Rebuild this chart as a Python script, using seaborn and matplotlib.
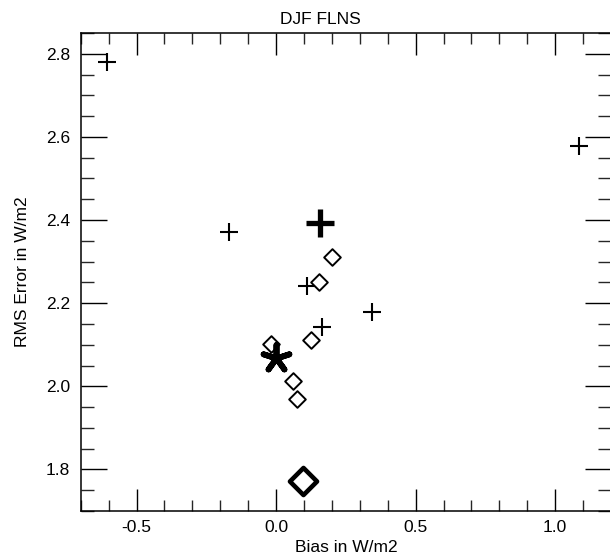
import matplotlib
matplotlib.use("Agg")
import matplotlib.pyplot as plt
from matplotlib.ticker import MultipleLocator, FixedLocator
import seaborn as sns
import pandas as pd

# ---- data ----
plus_x = [-0.607, -0.167, 0.110, 0.345, 0.164, 1.084]
plus_y = [2.781, 2.371, 2.241, 2.179, 2.142, 2.578]
diamond_x = [0.202, 0.154, 0.124, -0.018, 0.062, 0.074]
diamond_y = [2.311, 2.251, 2.111, 2.101, 2.012, 1.970]
bigplus_x = [0.158]
bigplus_y = [2.393]
bigdiamond_x = [0.098]
bigdiamond_y = [1.772]
star_x = [0.000]
star_y = [2.069]

x_ticks = [-0.5, 0.0, 0.5, 1.0]
x_ticklabels = ["-0.5", "0.0", "0.5", "1.0"]
y_ticks = [1.8, 2.0, 2.2, 2.4, 2.6, 2.8]
y_ticklabels = ["1.8", "2.0", "2.2", "2.4", "2.6", "2.8"]

title = "DJF FLNS"
xlabel = "Bias in W/m2"
ylabel = "RMS Error in W/m2"

sns.set_style("ticks")
plt.rcParams['font.family'] = ['Liberation Sans', 'DejaVu Sans']

FS = 12.5
W, H = 610, 559
L, R, T, B = 80.7, 611.0, 33.0, 511.0

fig = plt.figure(figsize=(W / 100, H / 100), dpi=100)
ax = fig.add_axes([L / W, 1 - B / H, (R - L) / W, (B - T) / H])

df_plus = pd.DataFrame({"x": plus_x, "y": plus_y})
df_dia = pd.DataFrame({"x": diamond_x, "y": diamond_y})
df_bp = pd.DataFrame({"x": bigplus_x, "y": bigplus_y})
df_bd = pd.DataFrame({"x": bigdiamond_x, "y": bigdiamond_y})
df_st = pd.DataFrame({"x": star_x, "y": star_y})

sns.scatterplot(data=df_plus, x="x", y="y", marker="+", s=150, color="black",
                linewidth=1.5, ax=ax, zorder=3)
sns.scatterplot(data=df_dia, x="x", y="y", marker="D", s=72, facecolor="white",
                edgecolor="black", linewidth=1.4, ax=ax, zorder=3)
sns.scatterplot(data=df_bp, x="x", y="y", marker="+", s=380, color="black",
                linewidth=3.8, ax=ax, zorder=4)
sns.scatterplot(data=df_bd, x="x", y="y", marker="D", s=190, facecolor="white",
                edgecolor="black", linewidth=3.3, ax=ax, zorder=4)
sns.scatterplot(data=df_st, x="x", y="y", marker=(5, 2, 0), s=380, color="black",
                linewidth=4.2, ax=ax, zorder=5)

ax.set_xlim(-0.70, 1.20)
ax.set_ylim(1.70, 2.85)

ax.xaxis.set_major_locator(FixedLocator(x_ticks))
ax.set_xticklabels(x_ticklabels)
ax.yaxis.set_major_locator(FixedLocator(y_ticks))
ax.set_yticklabels(y_ticklabels)
ax.xaxis.set_minor_locator(MultipleLocator(0.1))
ax.yaxis.set_minor_locator(MultipleLocator(0.05))

ax.tick_params(axis="x", which="major", direction="in", length=15.8, width=1.0,
               top=True, bottom=True, labelsize=FS, pad=6.5, colors="black")
ax.tick_params(axis="x", which="minor", direction="in", length=7.9, width=1.0,
               top=True, bottom=True)
ax.tick_params(axis="y", which="major", direction="in", length=18.7, width=1.0,
               left=True, right=True, labelsize=FS, pad=7.7, colors="black")
ax.tick_params(axis="y", which="minor", direction="in", length=9.4, width=1.0,
               left=True, right=True)

for sp in ax.spines.values():
    sp.set_visible(True)
    sp.set_linewidth(1.1)
    sp.set_color("black")

ax.set_title(title, fontsize=FS, color="black", x=(320 - L) / (R - L),
             y=1 + (T - 23.5) / (B - T), pad=0)
ax.set_xlabel(xlabel, fontsize=FS, color="black")
ax.set_ylabel(ylabel, fontsize=FS, color="black")
ax.xaxis.set_label_coords(0.5, (B - 540.5) / (B - T))
ax.yaxis.set_label_coords((30 - L) / (R - L), 0.5)
ax.grid(False)

fig.savefig("out.png", dpi=100, facecolor="white")
